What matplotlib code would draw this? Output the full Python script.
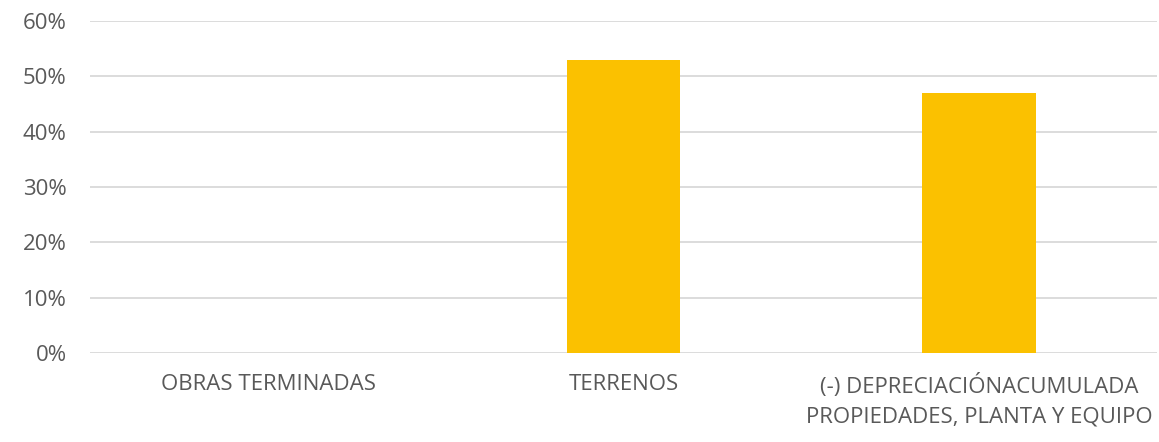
import matplotlib.pyplot as plt
from matplotlib.ticker import PercentFormatter

# Data
categories = ['OBRAS TERMINADAS', 'TERRENOS',
              '(-) DEPRECIACIÓNACUMULADA\nPROPIEDADES, PLANTA Y EQUIPO']
values = [0.0, 0.53, 0.47]
y_ticks = [0, 0.1, 0.2, 0.3, 0.4, 0.5, 0.6]

plt.rcParams['font.family'] = ['Open Sans', 'DejaVu Sans']
text_color = '#595959'

fig = plt.figure(figsize=(11.59, 4.42), dpi=100)
ax = fig.add_axes([0.078, 0.201, 0.920, 0.752])

x = range(len(categories))
ax.bar(x, values, width=0.32, color='#FBC100', zorder=3)

ax.set_ylim(0, 0.6)
ax.set_xlim(-0.5, len(categories) - 0.5)
ax.set_yticks(y_ticks)
ax.yaxis.set_major_formatter(PercentFormatter(1.0, decimals=0))
ax.grid(axis='y', color='#d9d9d9', linewidth=1.3, zorder=0)

ax.set_xticks(list(x))
ax.set_xticklabels(categories, linespacing=1.55)
ax.tick_params(axis='x', length=0, pad=15, labelsize=16, colors=text_color)
ax.tick_params(axis='y', length=0, pad=17, labelsize=16, colors=text_color)

for side in ['top', 'right', 'left', 'bottom']:
    ax.spines[side].set_visible(False)

fig.savefig('out.png', dpi=100)
